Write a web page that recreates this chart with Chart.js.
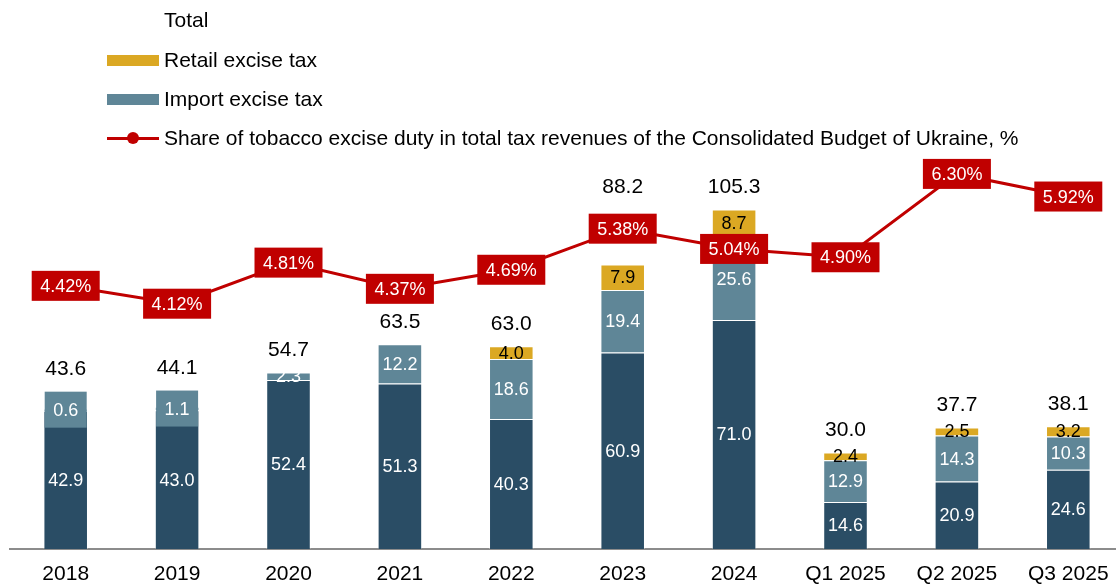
<!DOCTYPE html>
<html>
<head>
<meta charset="utf-8">
<title>Tobacco excise revenues</title>
<script src="https://cdn.jsdelivr.net/npm/chart.js@4.4.0/dist/chart.umd.min.js"></script>
<style>
	html, body { margin: 0; padding: 0; background: #fff; overflow: hidden; }
	#wrap { position: relative; width: 1124px; height: 585px; }
	#legend { position: absolute; left: 107px; top: 0; font: 21px "Liberation Sans", Arial, sans-serif; color: #000; }
	.item { position: absolute; left: 0; height: 24px; line-height: 24px; white-space: nowrap; }
	.swatch { position: absolute; left: 0; top: 7px; width: 52px; height: 11px; }
	.lineMark { position: absolute; left: 0; top: 11px; width: 52px; height: 3px; }
	.dot { position: absolute; left: 20px; top: 6px; width: 12px; height: 12px; border-radius: 50%; }
	.text { position: absolute; left: 57px; top: 0; }
</style>
</head>
<body>
<div id="wrap">
	<canvas id="chart" width="1124" height="585"></canvas>
	<div id="legend"></div>
</div>
<script>
/* global Chart */

// Chart data, UAH bn (bars) and % (line).
var categories = ['2018', '2019', '2020', '2021', '2022', '2023', '2024', 'Q1 2025', 'Q2 2025', 'Q3 2025'];
var domesticTax = [42.9, 43.0, 52.4, 51.3, 40.3, 60.9, 71.0, 14.6, 20.9, 24.6];
var importTax = [0.6, 1.1, 2.3, 12.2, 18.6, 19.4, 25.6, 12.9, 14.3, 10.3];
var retailTax = [0, 0, 0, 0, 4.0, 7.9, 8.7, 2.4, 2.5, 3.2];
var totals = [43.6, 44.1, 54.7, 63.5, 63.0, 88.2, 105.3, 30.0, 37.7, 38.1];
var taxShare = [4.42, 4.12, 4.81, 4.37, 4.69, 5.38, 5.04, 4.90, 6.30, 5.92];

var COLORS = {
	domestic: '#2a4d65',
	import:   '#5f8697',
	retail:   '#dba823',
	red:      '#c00000',
	axis:     '#8c8c8c',
};

var FONT = '"Liberation Sans", Arial, sans-serif';

// Draws segment values, the red share boxes and the totals.
var valueLabels = {
	id: 'valueLabels',
	afterDatasetsDraw: function (chart) {
		var ctx = chart.ctx;
		var tops = [];
		ctx.save();
		ctx.textAlign = 'center';
		ctx.textBaseline = 'middle';
		ctx.font = '18px ' + FONT;

		[0, 1, 2].forEach(function (di) {
			var ds = chart.data.datasets[di];
			chart.getDatasetMeta(di).data.forEach(function (bar, i) {
				var v = ds.data[i];
				if (!v) {
					return;
				}
				var cy = (bar.y + bar.base) / 2;
				var top = bar.y;
				// too thin for its label: put the label on a box of the same colour
				if (bar.base - bar.y < 5) {
					ctx.fillStyle = ds.backgroundColor;
					ctx.fillRect(bar.x - 21, cy - 18, 42, 36);
					top = Math.min(top, cy - 18);
				}
				tops[i] = tops[i] === undefined ? top : Math.min(tops[i], top);
				ctx.fillStyle = di === 2 ? '#000' : '#fff';
				ctx.fillText(v.toFixed(1), bar.x, cy + 1);
			});
		});

		var boxes = [];
		chart.getDatasetMeta(3).data.forEach(function (pt, i) {
			ctx.fillStyle = COLORS.red;
			ctx.fillRect(pt.x - 34, pt.y - 15, 68, 30);
			ctx.fillStyle = '#fff';
			ctx.fillText(taxShare[i].toFixed(2) + '%', pt.x, pt.y + 1);
			boxes[i] = pt.y;
		});

		ctx.font = '21px ' + FONT;
		ctx.fillStyle = '#000';
		chart.getDatasetMeta(0).data.forEach(function (bar, i) {
			var cy = tops[i] - 22;
			if (Math.abs(cy - boxes[i]) < 27) {
				cy = boxes[i] - 41;
			}
			ctx.fillText(totals[i].toFixed(1), bar.x, cy);
		});
		ctx.restore();
	},
};

var chart = new Chart(document.getElementById('chart'), {
	data: {
		labels: categories,
		datasets: [
			{
				type: 'bar',
				label: 'Domestic excise tax',
				data: domesticTax,
				backgroundColor: COLORS.domestic,
				borderColor: 'rgba(255,255,255,0.3)',
				borderWidth: 1,
				stack: 'tax',
				order: 1,
			},
			{
				type: 'bar',
				label: 'Import excise tax',
				data: importTax,
				backgroundColor: COLORS.import,
				borderColor: 'rgba(255,255,255,0.3)',
				borderWidth: 1,
				stack: 'tax',
				order: 1,
			},
			{
				type: 'bar',
				label: 'Retail excise tax',
				data: retailTax,
				backgroundColor: COLORS.retail,
				borderColor: 'rgba(255,255,255,0.3)',
				borderWidth: 1,
				stack: 'tax',
				order: 1,
			},
			{
				type: 'line',
				label: 'Share of tobacco excise duty in total tax revenues of the Consolidated Budget of Ukraine, %',
				data: taxShare,
				yAxisID: 'y2',
				borderColor: COLORS.red,
				backgroundColor: COLORS.red,
				borderWidth: 3,
				pointRadius: 0,
				tension: 0,
				order: 0,
			},
		],
	},
	options: {
		responsive: false,
		animation: false,
		layout: { padding: { left: 10, right: 0, top: 162, bottom: 0 } },
		datasets: {
			bar: { barPercentage: 1, categoryPercentage: 0.4 },
		},
		plugins: {
			legend: { display: false },
			tooltip: { enabled: false },
		},
		scales: {
			x: {
				stacked: true,
				grid: { display: false, drawTicks: false },
				border: { display: true, color: COLORS.axis, width: 2 },
				ticks: { color: '#000', font: { size: 21, family: FONT }, padding: 13, maxRotation: 0 },
				afterFit: function (scale) {
					scale.height = 36;
				},
			},
			y: {
				stacked: true,
				display: false,
				min: 0,
				max: 120,
			},
			y2: {
				display: false,
				position: 'right',
				min: 0,
				max: 6.5,
			},
		},
	},
	plugins: [valueLabels],
});

// HTML legend, rows top to bottom.
(function () {
	var ds = chart.data.datasets;
	var rows = [
		{ text: 'Total' },
		{ text: ds[2].label, swatch: COLORS.retail },
		{ text: ds[1].label, swatch: COLORS.import },
		{ text: ds[3].label, line: COLORS.red },
	];
	var rowCenters = [20, 60, 99, 138];
	var legend = document.getElementById('legend');
	rows.forEach(function (r, i) {
		var item = document.createElement('div');
		item.className = 'item';
		item.style.top = (rowCenters[i] - 12) + 'px';
		var html = '';
		if (r.swatch) {
			html += '<span class="swatch" style="background:' + r.swatch + '"></span>';
		}
		if (r.line) {
			html += '<span class="lineMark" style="background:' + r.line + '"></span>' +
				'<span class="dot" style="background:' + r.line + '"></span>';
		}
		html += '<span class="text">' + r.text + '</span>';
		item.innerHTML = html;
		legend.appendChild(item);
	});
}());
</script>
</body>
</html>
